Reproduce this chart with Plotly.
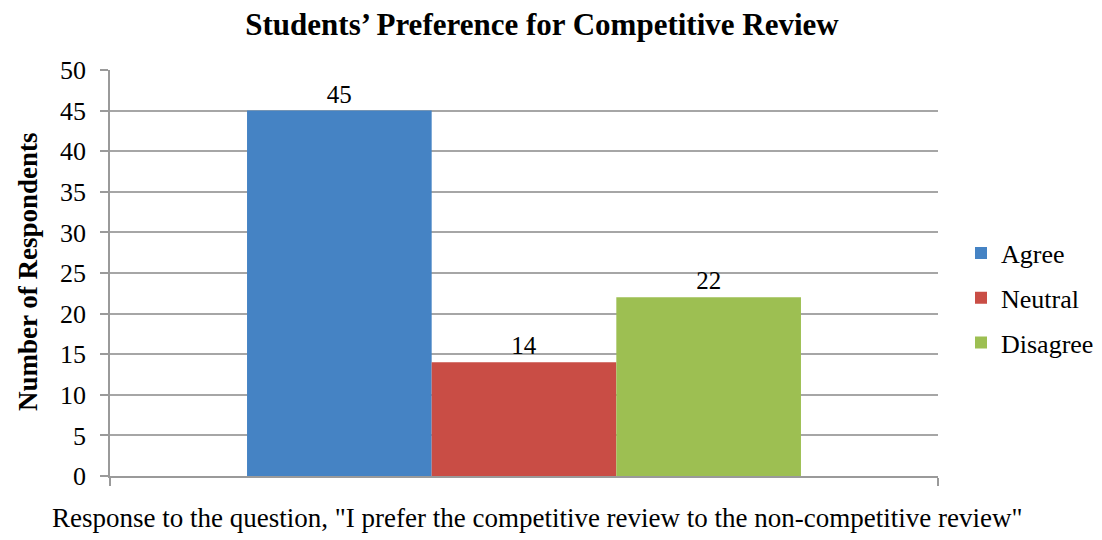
import plotly.graph_objects as go

categories = [""]
series_names = ["Agree", "Neutral", "Disagree"]
series_values = [[45], [14], [22]]
series_colors = ["#4583C4", "#C94D45", "#9DBF52"]
y_ticks = [0, 5, 10, 15, 20, 25, 30, 35, 40, 45, 50]

FONT = "Liberation Serif, Times New Roman, serif"
W, H = 1094, 532  # page body has an 8px margin

fig = go.Figure()
for i, (name, vals, col) in enumerate(zip(series_names, series_values, series_colors)):
    fig.add_trace(go.Bar(
        x=[0], y=vals, name=name, legendgroup=name,
        marker=dict(color=col, line=dict(width=0)),
        text=[str(v) for v in vals], textposition="outside",
        textfont=dict(family=FONT, size=25, color="#000000"),
        cliponaxis=False,
    ))

fig.update_layout(
    width=W, height=H,
    paper_bgcolor="white", plot_bgcolor="white",
    margin=dict(l=102, r=164, t=62, b=64, autoexpand=False),
    barmode="group", bargap=0.331, bargroupgap=0,
    font=dict(family=FONT, size=25, color="#000000"),
    title=dict(text="<b>Students’ Preference for Competitive Review</b>",
               x=(542-8)/W, xanchor="center", xref="container",
               y=1-5/H, yanchor="top", yref="container",
               font=dict(family=FONT, size=31, color="#000000")),
    showlegend=True,
    legend=dict(x=(961-110)/828, xanchor="left", y=(476-298)/406, yanchor="middle",
                font=dict(family=FONT, size=26, color="#000000"),
                traceorder="grouped", tracegroupgap=8,
                bgcolor="rgba(0,0,0,0)", itemwidth=30),
    xaxis=dict(range=[-0.5, 0.5], tickvals=[-0.5, 0.5], showticklabels=False,
               ticks="outside", ticklen=8, tickcolor="#9A9A9A", tickwidth=1.5,
               showline=True, linecolor="#9A9A9A", linewidth=1.5,
               showgrid=False, zeroline=False, fixedrange=True),
    yaxis=dict(range=[0, 50], tickvals=y_ticks, ticks="outside", ticklen=8,
               tickcolor="#9A9A9A", tickwidth=1.5, ticklabelstandoff=9,
               showline=True, linecolor="#9A9A9A", linewidth=1.5,
               showgrid=True, gridcolor="#A6A6A6", gridwidth=1.5,
               zeroline=False, automargin=False,
               tickfont=dict(family=FONT, size=26, color="#000000")),
)

fig.add_annotation(
    text="<b>Number of Respondents</b>", textangle=-90,
    xref="paper", yref="paper", x=(28-110)/828, y=(476-272)/406,
    xanchor="center", yanchor="middle", showarrow=False,
    font=dict(family=FONT, size=27, color="#000000"),
)

fig.add_annotation(
    text='Response to the question, "I prefer the competitive review to the non-competitive review"',
    xref="paper", yref="paper", x=(537-110)/828, y=-(518-476)/406,
    xanchor="center", yanchor="middle", showarrow=False,
    font=dict(family=FONT, size=27, color="#000000"),
)

fig.write_html("out.html")
